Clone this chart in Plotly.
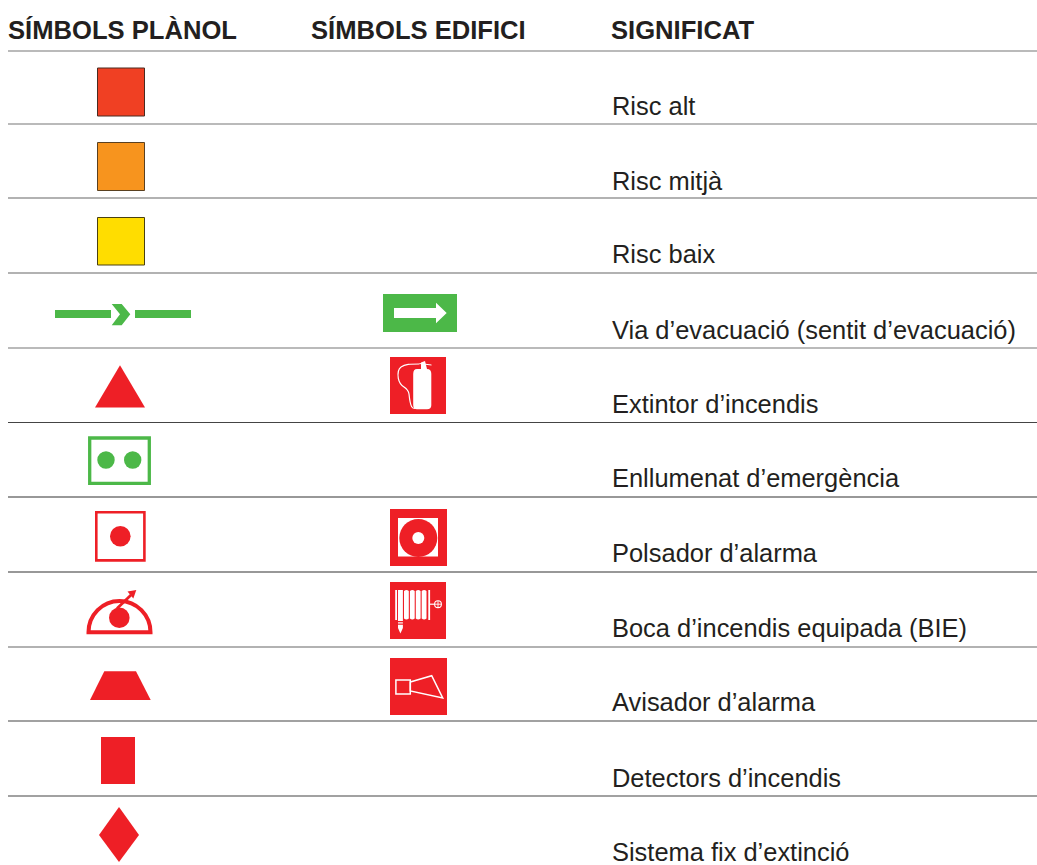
import plotly.graph_objects as go

headers = ["SÍMBOLS PLÀNOL", "SÍMBOLS EDIFICI", "SIGNIFICAT"]
meanings = ["Risc alt", "Risc mitjà", "Risc baix", "Via d’evacuació (sentit d’evacuació)",
            "Extintor d’incendis", "Enllumenat d’emergència", "Polsador d’alarma",
            "Boca d’incendis equipada (BIE)", "Avisador d’alarma", "Detectors d’incendis",
            "Sistema fix d’extinció"]

W, H = 1037, 865
RED, GREEN, INK = "#EE1F26", "#4CB848", "#231F20"
shapes, notes = [], []


def rect(x0, y0, x1, y1, fill=None, line=None, lw=0):
    shapes.append(dict(type="rect", x0=x0, y0=y0, x1=x1, y1=y1, fillcolor=fill or "rgba(0,0,0,0)",
                       line=dict(color=line or "rgba(0,0,0,0)", width=lw)))


def circle(cx, cy, r, fill=None, line=None, lw=0):
    shapes.append(dict(type="circle", x0=cx - r, y0=cy - r, x1=cx + r, y1=cy + r,
                       fillcolor=fill or "rgba(0,0,0,0)",
                       line=dict(color=line or "rgba(0,0,0,0)", width=lw)))


def poly(pts, fill=None, line=None, lw=0, closed=True):
    d = "M " + " L ".join(f"{x},{y}" for x, y in pts) + (" Z" if closed else "")
    shapes.append(dict(type="path", path=d, fillcolor=fill or "rgba(0,0,0,0)",
                       line=dict(color=line or "rgba(0,0,0,0)", width=lw)))


def path(d, fill=None, line=None, lw=0):
    shapes.append(dict(type="path", path=d, fillcolor=fill or "rgba(0,0,0,0)",
                       line=dict(color=line or "rgba(0,0,0,0)", width=lw)))


# rules
rule_ys = [51, 124, 198, 273, 348, 422.5, 497, 572, 647, 721, 796]
rule_colors = ["#777777", "#777777", "#666666", "#666666", "#777777", "#444444", "#333333", "#333333",
               "#666666", "#444444", "#444444"]
for ry, rc in zip(rule_ys, rule_colors):
    shapes.append(dict(type="line", x0=8, x1=1037, y0=ry, y1=ry, line=dict(color=rc, width=1.2)))

# risk squares
rect(97.5, 68, 144.5, 116, "#F04023", "#4a2a20", 1)
rect(97.5, 142.5, 144.5, 190.5, "#F7941E", "#5a4020", 1)
rect(97.5, 217.5, 144.5, 265, "#FFDD00", "#4a4010", 1)

# evacuation route
rect(55, 310, 111, 318, GREEN)
poly([(111.7, 304), (121.7, 304), (130.3, 314.3), (121.7, 325.3), (111.7, 325.3), (120, 314.3)], GREEN)
rect(135, 310, 191, 318, GREEN)
rect(383, 294, 457, 332, GREEN)
poly([(394, 308), (436, 308), (436, 302.7), (446.7, 313), (436, 323.3), (436, 318), (394, 318)], "white")

# extinguisher
poly([(120, 365.3), (145, 407.5), (95, 407.5)], RED)
rect(390, 357, 446, 414, RED)
path("M 417,369 L 427,369 Q 431.3,369 431.3,374 L 431.3,405 Q 431.3,409.3 427,409.3 L 417,409.3 "
     "Q 413.2,409.3 413.2,405 L 413.2,374 Q 413.2,369 417,369 Z", "white")
poly([(421, 369), (421, 362.5), (425, 361), (427, 369)], "white")
poly([(419.5, 363.5), (431.5, 365)], None, "white", 1, closed=False)
path("M 419.5,364 C 410,364 405,364 401,367 C 397.5,369.5 397.5,373 398.3,378.3 "
     "C 399,382 401,385 404,387 C 407,389 408.5,390.5 409,394 C 409.5,399 410,404 411.7,406.7 "
     "C 412.5,408 414,408.5 415,408.5", None, "white", 1.2)

# emergency lighting
rect(89.7, 438, 149.3, 483.3, "white", GREEN, 3.3)
circle(106, 460, 8.7, GREEN)
circle(132.7, 460, 8.7, GREEN)

# alarm button
rect(96.3, 512.3, 144.4, 560.4, "white", RED, 2.6)
circle(120.3, 536.3, 10.3, RED)
rect(390, 509, 447, 566, RED)
rect(398, 518, 438, 556.5, "white")
circle(418.3, 538, 19, RED)
circle(418.3, 538, 6, "white")

# hose reel plan symbol
path("M 88.5,632.3 C 88.5,615 102.4,601 119.5,601 C 136.6,601 150.5,615 150.5,632.3 Z", None, RED, 4)
circle(119.3, 617.7, 10.3, RED)
poly([(117, 608.5), (131, 595)], None, RED, 2.8, closed=False)
poly([(136.3, 590), (127.5, 591.5), (133.3, 598.5)], RED)
rect(390, 582, 446, 639, RED)
rect(395.2, 590, 397, 620, "white")
rect(428.3, 590, 430.1, 620, "white")
rect(398, 590, 402.9, 621, "white")
for col_x in (404, 409.9, 415.8, 421.7):
    path(f"M {col_x},591 Q {col_x + 2.4},589 {col_x + 4.8},591 L {col_x + 4.8},618.5 "
         f"Q {col_x + 2.4},620.5 {col_x},618.5 Z", "white")
rect(398, 622.3, 402.9, 623.5, "white")
poly([(398, 624.7), (402.9, 624.7), (402.9, 628), (400.4, 633.5), (398, 628)], "white")
poly([(430, 604.2), (434.5, 604.2)], None, "white", 1.2, closed=False)
circle(438, 604.2, 3.4, None, "white", 1.1)
poly([(434.6, 604.2), (441.4, 604.2)], None, "white", 0.9, closed=False)
poly([(438, 600.8), (438, 607.6)], None, "white", 0.9, closed=False)

# warning device
poly([(104.3, 671.3), (136, 671.3), (150.7, 700), (90, 700)], RED)
rect(390, 658, 447, 715, RED)
rect(395.9, 680, 410.3, 694, None, "white", 1.5)
poly([(410.3, 682), (431.7, 675.7), (442.7, 698), (410.3, 691)], None, "white", 1.5)

# detector, fixed system
rect(101, 737, 135, 784, RED)
poly([(119, 807), (139, 835), (119, 862), (99, 835)], RED)

# texts
for hx, text in zip((8, 311, 611), headers):
    notes.append(dict(x=hx, y=30, text=f"<b>{text}</b>", font=dict(size=25.6)))
text_ys = [105.5, 180.5, 253.5, 329.5, 403.5, 477.5, 552.5, 627.5, 701.5, 777.5, 851.5]
for ty, text in zip(text_ys, meanings):
    notes.append(dict(x=611.5, y=ty, text=text, font=dict(size=25.45)))
annotations = []
for n in notes:
    n["font"].update(family="Liberation Sans, Arial, sans-serif", color=INK)
    annotations.append(dict(n, xref="x", yref="y", xanchor="left", yanchor="middle",
                            showarrow=False, borderpad=0, borderwidth=0))

fig = go.Figure()
fig.update_layout(width=W, height=H, margin=dict(l=0, r=0, t=0, b=0), showlegend=False,
                  paper_bgcolor="white", plot_bgcolor="white", shapes=shapes, annotations=annotations,
                  xaxis=dict(range=[0, W], visible=False, fixedrange=True),
                  yaxis=dict(range=[H, 0], visible=False, fixedrange=True))
fig.write_html("out.html", config=dict(displayModeBar=False),
               post_script="document.body.style.margin='0';document.body.style.overflow='hidden';")
